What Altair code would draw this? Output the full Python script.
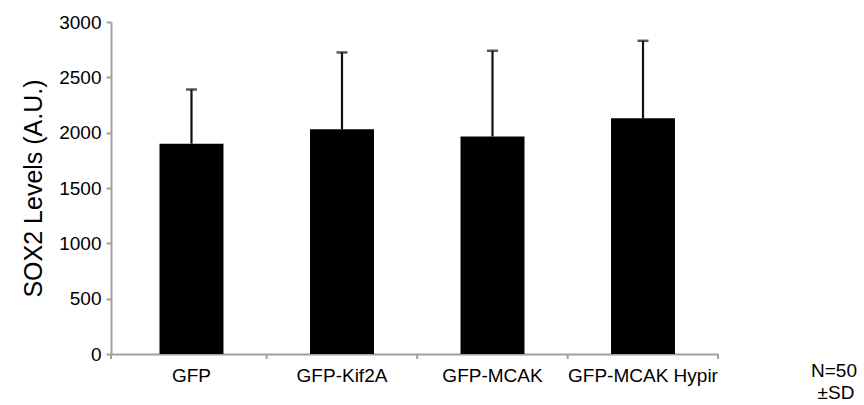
import altair as alt
import pandas as pd

categories = ["GFP", "GFP-Kif2A", "GFP-MCAK", "GFP-MCAK Hypir"]
means = [1900, 2030, 1965, 2130]
sds = [490, 695, 775, 700]
notes = ["N=50", "±SD"]

df = pd.DataFrame({"cat": categories, "mean": means, "sd": sds})
df["upper"] = df["mean"] + df["sd"]

W, H = 607, 332
STEP = 150.7
FONT = "Liberation Sans"
GRAY = "#a0a0a0"

xscale = alt.Scale(paddingInner=0.575, paddingOuter=0.304, align=0.53)
xenc = alt.X("cat:N", sort=categories, scale=xscale,
             axis=alt.Axis(title=None, labelAngle=0, labelFontSize=19, labelFont=FONT,
                           labelColor="#000", ticks=False, labelPadding=12,
                           domainColor=GRAY, domainWidth=2))
yscale = alt.Scale(domain=[0, 3000], nice=False)
yenc = alt.Y("mean:Q", scale=yscale,
             axis=alt.Axis(title="SOX2 Levels (A.U.)", values=list(range(0, 3001, 500)),
                           format="d", grid=False, labelFontSize=19, labelFont=FONT,
                           labelColor="#000",
                           titleFontSize=25, titleFont=FONT, titleFontWeight="normal",
                           titleColor="#000", titlePadding=12,
                           tickColor=GRAY, tickSize=5, tickWidth=2, labelPadding=5,
                           domainColor=GRAY, domainWidth=2))

base = alt.Chart(df)
bars = base.mark_bar(color="#000", strokeWidth=0).encode(x=xenc, y=yenc)
err = base.mark_rule(color="#111", strokeWidth=2.2).encode(
    x=alt.X("cat:N", sort=categories), y=alt.Y("mean:Q"), y2="upper:Q")
caps = base.mark_tick(color="#111", thickness=2.5, size=11, orient="horizontal").encode(
    x=alt.X("cat:N", sort=categories), y=alt.Y("upper:Q"))
xticks = base.transform_filter(alt.datum.cat != categories[0]).mark_rule(
    color=GRAY, strokeWidth=2, xOffset=-STEP / 2).encode(
    x=alt.X("cat:N", sort=categories),
    y=alt.value(H), y2=alt.value(H + 5))
edgeticks = alt.Chart(pd.DataFrame({"p": [0, W]})).mark_rule(
    color=GRAY, strokeWidth=2).encode(
    x=alt.value(0), y=alt.value(H), y2=alt.value(H + 5))
endtick = base.mark_rule(color=GRAY, strokeWidth=2).encode(
    x=alt.value(W), y=alt.value(H), y2=alt.value(H + 5))

note1 = alt.Chart(pd.DataFrame({"t": [notes[0]]})).mark_text(
    fontSize=19, font=FONT, color="#000", align="center", baseline="middle").encode(
    x=alt.value(723), y=alt.value(349), text="t:N")
note2 = alt.Chart(pd.DataFrame({"t": [notes[1]]})).mark_text(
    fontSize=19, font=FONT, color="#000", align="center", baseline="middle").encode(
    x=alt.value(725), y=alt.value(371), text="t:N")

chart = alt.layer(bars, err, caps, xticks, edgeticks, endtick, note1, note2).properties(
    width=W, height=H,
    autosize=alt.AutoSizeParams(type="none"),
    padding={"left": 111, "top": 22, "right": 146, "bottom": 51},
).configure_view(stroke=None)

chart.save("out.html", embed_options={"renderer": "svg", "actions": False})
